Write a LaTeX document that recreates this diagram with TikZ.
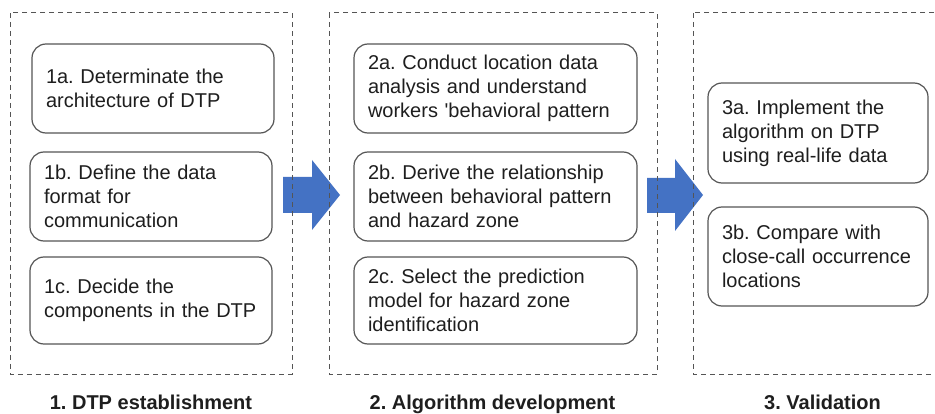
\documentclass[tikz,border=0pt]{standalone}
\usepackage{fontspec}
\setmainfont{Liberation Sans}
\frenchspacing
\definecolor{boxgray}{HTML}{555555}
\definecolor{dashgray}{HTML}{555555}
\definecolor{txt}{HTML}{1E1E1E}
\definecolor{arrowblue}{HTML}{4472C4}
\begin{document}
\begin{tikzpicture}[x=1pt,y=-1pt,
  stepbox/.style={draw=boxgray, line width=1.2pt, rounded corners=14pt, align=left,
    inner xsep=14pt, inner ysep=0pt, text=txt, font=\fontsize{20}{24}\selectfont, anchor=center},
  panel/.style={draw=dashgray, line width=1pt, dash pattern=on 5pt off 4pt},
  phase/.style={font=\fontsize{20}{24}\selectfont\bfseries, text=txt, anchor=base, inner sep=0pt},
  bigarrow/.style={fill=arrowblue}]
\useasboundingbox (0,0) rectangle (935,414);
% block arrows
\fill[bigarrow] (283,177) -- (312,177) -- (312,160) -- (340,195) -- (312,230) -- (312,213) -- (283,213) -- cycle;
\fill[bigarrow] (647,178) -- (675,178) -- (675,159) -- (703,195) -- (675,231) -- (675,213) -- (647,213) -- cycle;
% panels
\draw[panel] (10,13) rectangle (292,374);
\draw[panel] (329,13) rectangle (657,374);
\draw[panel] (693,13) rectangle (952,374);
% phase 1
\node[stepbox, text width=214pt, minimum height=89pt] (b1a) at (153,88.5) {1a. Determinate the\\architecture of DTP};
\node[stepbox, text width=214pt, minimum height=89pt] (b1b) at (151,196.5) {1b. Define the data\\format for\\communication};
\node[stepbox, text width=214pt, minimum height=87pt] (b1c) at (151,300.5) {1c. Decide the\\components in the DTP};
% phase 2
\node[stepbox, text width=255pt, minimum height=89pt] (b2a) at (495.5,88.5) {2a. Conduct location data\\analysis and understand\\workers \textquotesingle behavioral pattern};
\node[stepbox, text width=255pt, minimum height=89pt] (b2b) at (495.5,196.5) {2b. Derive the relationship\\between behavioral pattern\\and hazard zone};
\node[stepbox, text width=255pt, minimum height=87pt] (b2c) at (495.5,300.5) {2c. Select the prediction\\model for hazard zone\\identification};
% phase 3
\node[stepbox, text width=192pt, minimum height=100pt] (b3a) at (818,133) {3a. Implement the\\algorithm on DTP\\using real-life data};
\node[stepbox, text width=192pt, minimum height=99pt] (b3b) at (818,256.5) {3b. Compare with\\close-call occurrence\\locations};
% labels
\node[phase] (l1) at (151,409) {1. DTP establishment};
\node[phase] (l2) at (492.5,409) {2. Algorithm development};
\node[phase] (l3) at (822.5,409) {3. Validation};
\end{tikzpicture}
\end{document}
